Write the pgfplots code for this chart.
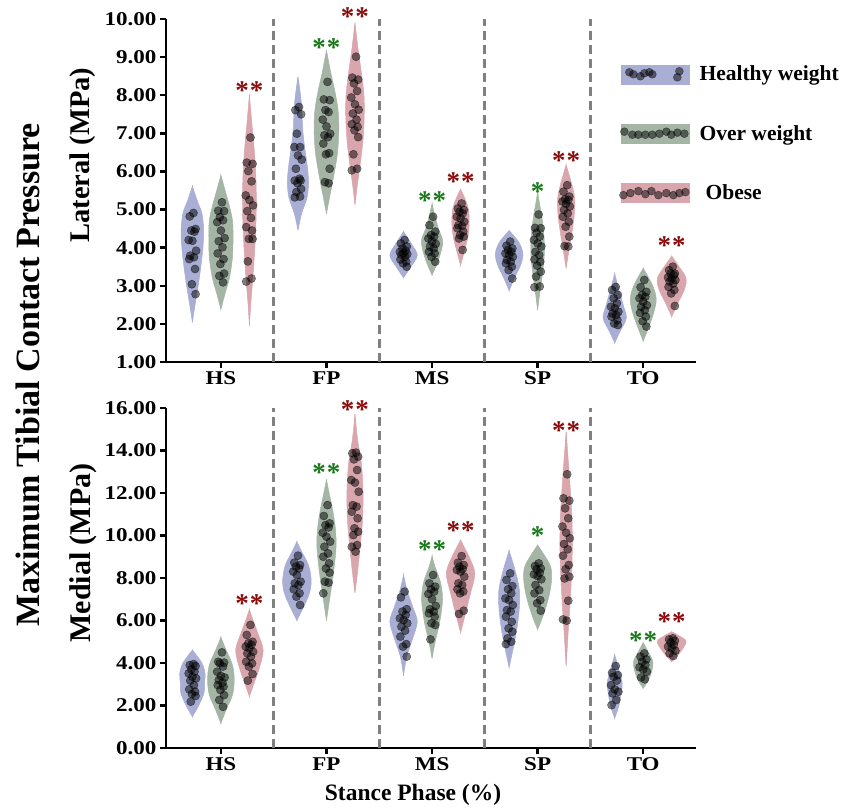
\documentclass[border=0pt]{standalone}
\usepackage{fontspec}
\setmainfont{Liberation Serif}
\newfontfamily\tickfont[FakeStretch=1.18]{Liberation Serif}
\usepackage{pgfplots}
\pgfplotsset{compat=1.18}

\definecolor{cH}{RGB}{168,174,212}
\definecolor{cO}{RGB}{164,181,166}
\definecolor{cB}{RGB}{217,166,174}
\definecolor{sR}{RGB}{139,10,10}
\definecolor{sG}{RGB}{25,120,25}
\definecolor{dashgray}{RGB}{128,128,128}

\newcommand{\violin}[3]{%
  \addplot[forget plot, smooth, tension=0.55, fill=#2, draw=#2, line width=0.5pt]
    table[row sep=\\, x expr=#1+\thisrow{w}, y=y] {y w\\ #3} -- cycle;
  \addplot[forget plot, smooth, tension=0.55, fill=#2, draw=#2, line width=0.5pt]
    table[row sep=\\, x expr=#1-\thisrow{w}, y=y] {y w\\ #3} -- cycle;
}
\newcommand{\pts}[2]{%
  \addplot[forget plot, only marks, mark=*, mark size=4.1pt,
    mark options={fill=black, fill opacity=0.5, draw=black, draw opacity=0.55, line width=0.4pt}]
    table[row sep=\\, x expr=#1+\thisrow{j}, y=y] {j y\\ #2};
}
\newcommand{\stars}[4]{% x, y, color, text
  \node[font=\bfseries\fontsize{27}{27}\selectfont, text=#3, anchor=base, yshift=-13pt, inner sep=0pt] at (axis cs:#1,#2) {#4};
}

\pgfplotsset{vstyle/.style={
  scale only axis, width=530pt,
  xmin=-0.52, xmax=4.5,
  axis x line*=bottom, axis y line*=left,
  xtick pos=bottom, ytick pos=left,
  axis line style={line width=2.6pt, black, -},
  xtick={0,1,2,3,4}, xticklabels={HS,FP,MS,SP,TO},
  tick style={line width=2.4pt, black},
  tick align=outside, major tick length=6pt,
  ticklabel style={font=\tickfont\bfseries\fontsize{19.5}{19.5}\selectfont},
  /pgf/number format/assume math mode=true,
  yticklabel style={/pgf/number format/.cd, fixed, fixed zerofill, precision=2},
  extra x ticks={0.5,1.5,2.5,3.5}, extra x tick labels={},
  extra x tick style={major tick length=0pt, grid=major,
    major grid style={dashgray, line width=2.8pt, dash pattern=on 9pt off 5pt}},
  clip=false,
}}

\begin{document}
\begin{tikzpicture}
\useasboundingbox (0pt,0pt) rectangle (847pt,811pt);

% ================= TOP: Lateral =================
\begin{axis}[vstyle, at={(166pt,449pt)}, anchor=south west, height=343pt,
  ymin=1, ymax=10, ytick={1,2,...,10},
  legend style={at={(0.849,0.875)}, anchor=north west, draw=none, fill=none,
    font=\bfseries\fontsize{21.5}{24}\selectfont, row sep=39pt},
  legend cell align=left]
\addlegendimage{legend image code/.code={
  \fill[cH] (0pt,-9.5pt) rectangle (68pt,9.5pt);
  \foreach \xx/\yy in {8/2,12/0,19/-2,23/1,28/2,31/0,56/-3,58/3}
    \fill[black, opacity=0.5] (\xx pt,\yy pt) circle (4pt);}}
\addlegendentry{\hspace*{8pt}Healthy weight}
\addlegendimage{legend image code/.code={
  \fill[cO] (0pt,-9.5pt) rectangle (68pt,9.5pt);
  \foreach \xx/\yy in {3/2,11/-1,17/-1,24/-1,31/-1,38/0,45/2,50/-1,56/1,63/0}
    \fill[black, opacity=0.5] (\xx pt,\yy pt) circle (4pt);}}
\addlegendentry{\hspace*{8pt}Over weight}
\addlegendimage{legend image code/.code={
  \fill[cB] (0pt,-9.5pt) rectangle (68pt,9.5pt);
  \foreach \xx/\yy in {2/-2,9/0,17/2,24/-1,30/2,37/-2,45/0,52/-2,58/0,64/1}
    \fill[black, opacity=0.5] (\xx pt,\yy pt) circle (4pt);}}
\addlegendentry{\hspace*{14pt}Obese}

% HS
\violin{-0.27}{cH}{2.04 0\\ 2.5 0.025\\ 3.0 0.055\\ 3.5 0.08\\ 4.0 0.1\\ 4.45 0.107\\ 4.9 0.09\\ 5.2 0.05\\ 5.61 0\\}
\pts{-0.27}{0.01 4.91\\ -0.025 4.82\\ 0.03 4.49\\ -0.01 4.45\\ 0.02 4.42\\ -0.035 4.20\\ 0.0 4.18\\ 0.035 3.92\\ -0.02 3.79\\ 0.015 3.75\\ -0.03 3.70\\ 0.025 3.44\\ -0.005 3.04\\ 0.03 2.78\\}
\violin{0}{cO}{2.39 0\\ 2.8 0.04\\ 3.2 0.08\\ 3.7 0.108\\ 4.2 0.115\\ 4.7 0.11\\ 5.1 0.08\\ 5.5 0.04\\ 5.9 0\\}
\pts{0}{0.01 5.19\\ -0.025 4.97\\ 0.03 4.96\\ -0.01 4.80\\ 0.02 4.72\\ -0.035 4.67\\ 0.0 4.45\\ 0.035 4.25\\ -0.02 4.17\\ 0.015 4.01\\ -0.03 3.85\\ 0.025 3.70\\ -0.005 3.57\\ 0.03 3.32\\ -0.015 3.26\\ 0.02 3.09\\}
\violin{0.27}{cB}{1.95 0\\ 2.6 0.015\\ 3.3 0.035\\ 4.2 0.055\\ 5.0 0.065\\ 5.8 0.062\\ 6.6 0.045\\ 7.3 0.022\\ 8.02 0\\}
\pts{0.27}{0.01 6.89\\ -0.025 6.23\\ 0.03 6.20\\ -0.01 6.01\\ 0.02 5.74\\ -0.035 5.37\\ 0.0 5.25\\ 0.035 5.11\\ -0.02 4.96\\ 0.015 4.78\\ -0.03 4.54\\ 0.025 4.45\\ -0.005 4.23\\ 0.03 4.23\\ -0.015 3.64\\ 0.02 3.19\\ -0.03 3.11\\}
% FP
\violin{0.73}{cH}{4.46 0\\ 4.9 0.035\\ 5.3 0.085\\ 5.7 0.1\\ 6.1 0.09\\ 6.6 0.065\\ 7.1 0.045\\ 7.7 0.035\\ 8.1 0.02\\ 8.48 0\\}
\pts{0.73}{0.01 7.69\\ -0.025 7.61\\ 0.03 7.50\\ -0.01 6.99\\ 0.02 6.64\\ -0.035 6.64\\ 0.0 6.42\\ 0.035 6.31\\ -0.02 6.07\\ 0.015 5.81\\ -0.03 5.76\\ 0.025 5.76\\ -0.005 5.69\\ 0.03 5.54\\ -0.015 5.46\\ 0.02 5.34\\ -0.03 5.32\\}
\violin{1}{cO}{4.89 0\\ 5.4 0.035\\ 5.9 0.07\\ 6.5 0.105\\ 7.1 0.117\\ 7.6 0.11\\ 8.1 0.08\\ 8.6 0.04\\ 9.18 0\\}
\pts{1}{0.01 8.35\\ -0.025 7.89\\ 0.03 7.87\\ -0.01 7.61\\ 0.02 7.56\\ -0.035 7.36\\ 0.0 7.18\\ 0.035 6.99\\ -0.02 6.95\\ 0.015 6.90\\ -0.03 6.73\\ 0.025 6.48\\ -0.005 6.45\\ 0.03 6.07\\ -0.015 5.72\\ 0.02 5.69\\}
\violin{1.27}{cB}{5.13 0\\ 5.7 0.025\\ 6.2 0.05\\ 6.8 0.075\\ 7.4 0.087\\ 8.0 0.085\\ 8.6 0.06\\ 9.2 0.03\\ 9.9 0\\}
\pts{1.27}{0.01 9.01\\ -0.025 8.46\\ 0.03 8.41\\ -0.01 8.31\\ 0.02 8.11\\ -0.035 7.94\\ 0.0 7.76\\ 0.035 7.62\\ -0.02 7.52\\ 0.015 7.36\\ -0.03 7.24\\ 0.025 7.17\\ -0.005 7.08\\ 0.03 6.90\\ -0.015 6.45\\ 0.02 6.07\\ -0.03 6.03\\}
% MS
\violin{1.73}{cH}{3.21 0\\ 3.5 0.07\\ 3.8 0.13\\ 4.1 0.075\\ 4.42 0\\}
\pts{1.73}{0.01 4.20\\ -0.025 4.11\\ 0.03 4.03\\ -0.01 3.98\\ 0.02 3.92\\ -0.035 3.89\\ 0.0 3.85\\ 0.035 3.83\\ -0.02 3.81\\ 0.015 3.76\\ -0.03 3.69\\ 0.025 3.63\\ -0.005 3.59\\ 0.03 3.50\\}
\violin{2}{cO}{3.28 0\\ 3.6 0.05\\ 3.95 0.09\\ 4.2 0.1\\ 4.5 0.06\\ 4.8 0.03\\ 5.15 0\\}
\pts{2}{0.01 4.81\\ -0.025 4.59\\ 0.03 4.42\\ -0.01 4.33\\ 0.02 4.29\\ -0.035 4.24\\ 0.0 4.16\\ 0.035 4.10\\ -0.02 4.03\\ 0.015 3.98\\ -0.03 3.89\\ 0.025 3.85\\ -0.005 3.76\\ 0.03 3.63\\}
\violin{2.27}{cB}{3.54 0\\ 3.9 0.035\\ 4.3 0.07\\ 4.65 0.082\\ 5.0 0.075\\ 5.3 0.04\\ 5.53 0\\}
\pts{2.27}{0.01 5.16\\ -0.025 5.03\\ 0.03 4.99\\ -0.01 4.94\\ 0.02 4.90\\ -0.035 4.81\\ 0.0 4.77\\ 0.035 4.68\\ -0.02 4.59\\ 0.015 4.57\\ -0.03 4.51\\ 0.025 4.42\\ -0.005 4.33\\ 0.03 4.29\\ -0.015 4.24\\ 0.02 3.94\\}
% SP
\violin{2.73}{cH}{2.87 0\\ 3.2 0.05\\ 3.55 0.11\\ 3.85 0.13\\ 4.15 0.09\\ 4.45 0\\}
\pts{2.73}{0.01 4.16\\ -0.025 4.05\\ 0.03 3.98\\ -0.01 3.94\\ 0.02 3.89\\ -0.035 3.85\\ 0.0 3.81\\ 0.035 3.76\\ -0.02 3.68\\ 0.015 3.63\\ -0.03 3.59\\ 0.025 3.50\\ -0.005 3.41\\ 0.03 3.19\\}
\violin{3}{cO}{2.36 0\\ 2.8 0.02\\ 3.3 0.045\\ 3.8 0.063\\ 4.3 0.06\\ 4.8 0.04\\ 5.2 0.015\\ 5.47 0\\}
\pts{3}{0.01 4.87\\ -0.025 4.52\\ 0.03 4.51\\ -0.01 4.39\\ 0.02 4.29\\ -0.035 4.20\\ 0.0 4.11\\ 0.035 4.03\\ -0.02 3.89\\ 0.015 3.81\\ -0.03 3.69\\ 0.025 3.63\\ -0.005 3.53\\ 0.03 3.37\\ -0.015 3.24\\ 0.02 2.98\\ -0.03 2.96\\}
\violin{3.27}{cB}{3.46 0\\ 3.9 0.025\\ 4.4 0.055\\ 4.9 0.078\\ 5.3 0.08\\ 5.7 0.05\\ 6.17 0\\}
\pts{3.27}{0.01 5.64\\ -0.025 5.47\\ 0.03 5.34\\ -0.01 5.27\\ 0.02 5.25\\ -0.035 5.21\\ 0.0 5.15\\ 0.035 5.08\\ -0.02 4.99\\ 0.015 4.90\\ -0.03 4.81\\ 0.025 4.68\\ -0.005 4.55\\ 0.03 4.29\\ -0.015 4.04\\ 0.02 4.03\\}
% TO
\violin{3.73}{cH}{1.5 0\\ 1.8 0.05\\ 2.15 0.11\\ 2.5 0.08\\ 2.9 0.04\\ 3.32 0\\}
\pts{3.73}{0.01 2.97\\ -0.025 2.89\\ 0.03 2.76\\ -0.01 2.67\\ 0.02 2.54\\ -0.035 2.45\\ 0.0 2.41\\ 0.035 2.32\\ -0.02 2.27\\ 0.015 2.23\\ -0.03 2.19\\ 0.025 2.10\\ -0.005 2.01\\ 0.03 1.97\\}
\violin{4}{cO}{1.55 0\\ 1.9 0.05\\ 2.3 0.1\\ 2.65 0.123\\ 3.0 0.09\\ 3.46 0\\}
\pts{4}{0.01 3.15\\ -0.025 2.96\\ 0.03 2.84\\ -0.01 2.76\\ 0.02 2.71\\ -0.035 2.67\\ 0.0 2.58\\ 0.035 2.49\\ -0.02 2.45\\ 0.015 2.36\\ -0.03 2.29\\ 0.025 2.19\\ -0.005 2.07\\ 0.03 1.93\\}
\violin{4.27}{cB}{2.19 0\\ 2.5 0.05\\ 2.9 0.12\\ 3.2 0.135\\ 3.5 0.07\\ 3.78 0\\}
\pts{4.27}{0.01 3.50\\ -0.025 3.41\\ 0.03 3.32\\ -0.01 3.32\\ 0.02 3.28\\ -0.035 3.22\\ 0.0 3.19\\ 0.035 3.15\\ -0.02 3.11\\ 0.015 3.06\\ -0.03 2.97\\ 0.025 2.89\\ -0.005 2.80\\ 0.03 2.47\\}

\stars{0.27}{8.22}{sR}{*\kern1pt*}
\stars{1}{9.37}{sG}{*\kern1pt*}
\stars{1.27}{10.18}{sR}{*\kern1pt*}
\stars{2}{5.33}{sG}{*\kern1pt*}
\stars{2.27}{5.83}{sR}{*\kern1pt*}
\stars{3}{5.59}{sG}{*}
\stars{3.27}{6.38}{sR}{*\kern1pt*}
\stars{4.27}{4.15}{sR}{*\kern1pt*}
\end{axis}

% ================= BOTTOM: Medial =================
\begin{axis}[vstyle, at={(166pt,63pt)}, anchor=south west, height=340pt,
  ymin=0, ymax=16, ytick={0,2,...,16}]
% HS
\violin{-0.27}{cH}{1.47 0\\ 2.0 0.06\\ 2.6 0.11\\ 3.1 0.115\\ 3.5 0.12\\ 4.0 0.09\\ 4.61 0\\}
\pts{-0.27}{0.01 3.95\\ -0.025 3.90\\ 0.03 3.86\\ -0.01 3.70\\ 0.02 3.59\\ -0.035 3.51\\ 0.0 3.35\\ 0.035 3.28\\ -0.02 3.17\\ 0.015 2.96\\ -0.03 2.76\\ 0.025 2.65\\ -0.005 2.54\\ 0.03 2.45\\ -0.015 2.18\\}
\violin{0}{cO}{1.16 0\\ 1.8 0.05\\ 2.5 0.11\\ 3.2 0.126\\ 3.9 0.11\\ 4.6 0.05\\ 5.21 0\\}
\pts{0}{0.01 4.50\\ -0.025 4.06\\ 0.03 4.02\\ -0.01 3.98\\ 0.02 3.83\\ -0.035 3.59\\ 0.0 3.39\\ 0.035 3.32\\ -0.02 3.20\\ 0.015 3.07\\ -0.03 2.96\\ 0.025 2.89\\ -0.005 2.73\\ 0.03 2.49\\ -0.015 2.26\\ 0.02 1.94\\}
\violin{0.27}{cB}{2.42 0\\ 3.0 0.04\\ 3.7 0.09\\ 4.6 0.13\\ 5.4 0.08\\ 6.0 0.035\\ 6.52 0\\}
\pts{0.27}{0.01 5.79\\ -0.025 5.32\\ 0.03 5.00\\ -0.01 4.93\\ 0.02 4.85\\ -0.035 4.77\\ 0.0 4.69\\ 0.035 4.53\\ -0.02 4.45\\ 0.015 4.30\\ -0.03 4.06\\ 0.025 3.98\\ -0.005 3.83\\ 0.03 3.48\\ -0.015 3.17\\}
% FP
\violin{0.72}{cH}{6.0 0\\ 6.6 0.06\\ 7.3 0.12\\ 7.9 0.135\\ 8.6 0.11\\ 9.2 0.05\\ 9.71 0\\}
\pts{0.72}{0.01 9.05\\ -0.025 8.72\\ 0.03 8.61\\ -0.01 8.53\\ 0.02 8.45\\ -0.035 8.30\\ 0.0 8.14\\ 0.035 7.83\\ -0.02 7.75\\ 0.015 7.67\\ -0.03 7.47\\ 0.025 7.28\\ -0.005 7.12\\ 0.03 6.73\\}
\violin{1}{cO}{6.0 0\\ 7.0 0.03\\ 8.2 0.065\\ 9.4 0.09\\ 10.3 0.085\\ 11.3 0.055\\ 12.0 0.025\\ 12.64 0\\}
\pts{1}{0.01 11.43\\ -0.025 10.92\\ 0.03 10.57\\ -0.01 10.49\\ 0.02 10.38\\ -0.035 10.13\\ 0.0 9.94\\ 0.035 9.71\\ -0.02 9.47\\ 0.015 9.16\\ -0.03 9.00\\ 0.025 8.69\\ -0.005 8.45\\ 0.03 8.25\\ -0.015 7.83\\ 0.02 7.78\\ -0.03 7.28\\}
\violin{1.27}{cB}{7.31 0\\ 8.3 0.025\\ 9.5 0.05\\ 10.8 0.072\\ 12.1 0.076\\ 13.4 0.06\\ 14.5 0.025\\ 15.72 0\\}
\pts{1.27}{0.01 13.90\\ -0.025 13.87\\ 0.03 13.71\\ -0.01 13.58\\ 0.02 13.08\\ -0.035 12.61\\ 0.0 12.49\\ 0.035 12.06\\ -0.02 11.43\\ 0.015 11.36\\ -0.03 11.12\\ 0.025 10.81\\ -0.005 10.34\\ 0.03 10.18\\ -0.015 10.02\\ 0.02 9.55\\ -0.03 9.47\\ 0.005 9.24\\}
% MS
\violin{1.73}{cH}{3.39 0\\ 4.3 0.03\\ 5.2 0.09\\ 5.95 0.13\\ 6.6 0.09\\ 7.4 0.035\\ 8.14 0\\}
\pts{1.73}{0.01 7.36\\ -0.025 7.09\\ 0.03 6.53\\ -0.01 6.42\\ 0.02 6.26\\ -0.035 6.10\\ 0.0 6.02\\ 0.035 5.87\\ -0.02 5.71\\ 0.015 5.52\\ -0.03 5.24\\ 0.025 4.89\\ -0.005 4.77\\ 0.03 4.30\\}
\violin{2}{cO}{4.22 0\\ 5.0 0.03\\ 6.0 0.075\\ 7.0 0.099\\ 7.8 0.08\\ 8.5 0.03\\ 9.03 0\\}
\pts{2}{0.01 8.14\\ -0.025 7.75\\ 0.03 7.59\\ -0.01 7.47\\ 0.02 7.36\\ -0.035 7.25\\ 0.0 7.00\\ 0.035 6.68\\ -0.02 6.53\\ 0.015 6.42\\ -0.03 6.34\\ 0.025 6.18\\ -0.005 5.87\\ 0.03 5.79\\ -0.015 5.11\\}
\violin{2.27}{cB}{5.43 0\\ 6.2 0.04\\ 7.2 0.09\\ 8.2 0.135\\ 8.9 0.09\\ 9.4 0.04\\ 9.79 0\\}
\pts{2.27}{0.01 9.03\\ -0.025 8.72\\ 0.03 8.61\\ -0.01 8.53\\ 0.02 8.42\\ -0.035 8.38\\ 0.0 8.30\\ 0.035 8.06\\ -0.02 7.75\\ 0.015 7.67\\ -0.03 7.47\\ 0.025 7.36\\ -0.005 7.28\\ 0.03 6.46\\ -0.015 6.31\\}
% SP
\violin{2.73}{cH}{3.8 0\\ 4.6 0.035\\ 5.5 0.07\\ 6.5 0.095\\ 7.4 0.098\\ 8.3 0.06\\ 9.29 0\\}
\pts{2.73}{0.01 8.22\\ -0.025 7.91\\ 0.03 7.62\\ -0.01 7.47\\ 0.02 7.28\\ -0.035 7.04\\ 0.0 6.96\\ 0.035 6.73\\ -0.02 6.49\\ 0.015 6.42\\ -0.03 6.18\\ 0.025 5.94\\ -0.005 5.63\\ 0.03 5.47\\ -0.015 5.16\\ 0.02 5.00\\ -0.03 4.89\\}
\violin{3}{cO}{5.58 0\\ 6.2 0.05\\ 7.0 0.1\\ 7.8 0.13\\ 8.5 0.125\\ 9.1 0.06\\ 9.55 0\\}
\pts{3}{0.01 8.69\\ -0.025 8.56\\ 0.03 8.45\\ -0.01 8.41\\ 0.02 8.25\\ -0.035 8.17\\ 0.0 8.09\\ 0.035 7.94\\ -0.02 7.67\\ 0.015 7.43\\ -0.03 7.28\\ 0.025 6.96\\ -0.005 6.81\\ 0.03 6.46\\}
\violin{3.27}{cB}{3.86 0\\ 5.5 0.02\\ 7.5 0.045\\ 9.2 0.058\\ 10.8 0.055\\ 12.5 0.035\\ 14.89 0\\}
\pts{3.27}{0.01 12.88\\ -0.025 11.75\\ 0.03 11.64\\ -0.01 11.28\\ 0.02 10.81\\ -0.035 10.42\\ 0.0 10.13\\ 0.035 9.87\\ -0.02 9.60\\ 0.015 9.35\\ -0.03 9.05\\ 0.025 8.61\\ -0.005 8.41\\ 0.03 8.06\\ -0.015 7.98\\ 0.02 6.93\\ -0.03 6.05\\ 0.005 5.99\\}
% TO
\violin{3.73}{cH}{1.4 0\\ 2.0 0.04\\ 2.7 0.065\\ 3.1 0.07\\ 3.7 0.04\\ 4.38 0\\}
\pts{3.73}{0.01 3.86\\ -0.025 3.54\\ 0.03 3.43\\ -0.01 3.35\\ 0.02 3.17\\ -0.035 2.96\\ 0.0 2.76\\ 0.035 2.65\\ -0.02 2.57\\ 0.015 2.26\\ -0.03 2.02\\}
\violin{4}{cO}{2.81 0\\ 3.2 0.05\\ 3.7 0.085\\ 4.1 0.09\\ 4.5 0.05\\ 4.96 0\\}
\pts{4}{0.01 4.45\\ -0.025 4.30\\ 0.03 4.17\\ -0.01 4.06\\ 0.02 3.91\\ -0.035 3.80\\ 0.0 3.70\\ 0.035 3.59\\ -0.02 3.32\\ 0.015 3.23\\}
\violin{4.27}{cB}{4.06 0\\ 4.5 0.08\\ 5.0 0.137\\ 5.25 0.08\\ 5.47 0\\}
\pts{4.27}{0.01 5.16\\ -0.025 5.11\\ 0.03 5.05\\ -0.01 4.96\\ 0.02 4.85\\ -0.035 4.77\\ 0.0 4.69\\ 0.035 4.58\\ -0.02 4.45\\ 0.015 4.33\\}

\stars{0.27}{7.01}{sR}{*\kern1pt*}
\stars{1}{13.13}{sG}{*\kern1pt*}
\stars{1.27}{16.1}{sR}{*\kern1pt*}
\stars{2}{9.51}{sG}{*\kern1pt*}
\stars{2.27}{10.42}{sR}{*\kern1pt*}
\stars{3}{10.18}{sG}{*}
\stars{3.27}{15.12}{sR}{*\kern1pt*}
\stars{4}{5.27}{sG}{*\kern1pt*}
\stars{4.27}{6.12}{sR}{*\kern1pt*}
\end{axis}

\node[rotate=90, font=\bfseries\fontsize{34}{34}\selectfont] at (28pt,436pt) {Maximum Tibial Contact Pressure};
\node[rotate=90, font=\bfseries\fontsize{28.5}{28.5}\selectfont] at (83pt,656pt) {Lateral (MPa)};
\node[rotate=90, font=\bfseries\fontsize{30}{30}\selectfont] at (83pt,258pt) {Medial (MPa)};
\node[font=\bfseries\fontsize{23.5}{23.5}\selectfont] at (413pt,16pt) {Stance Phase (\%)};
\end{tikzpicture}
\end{document}
